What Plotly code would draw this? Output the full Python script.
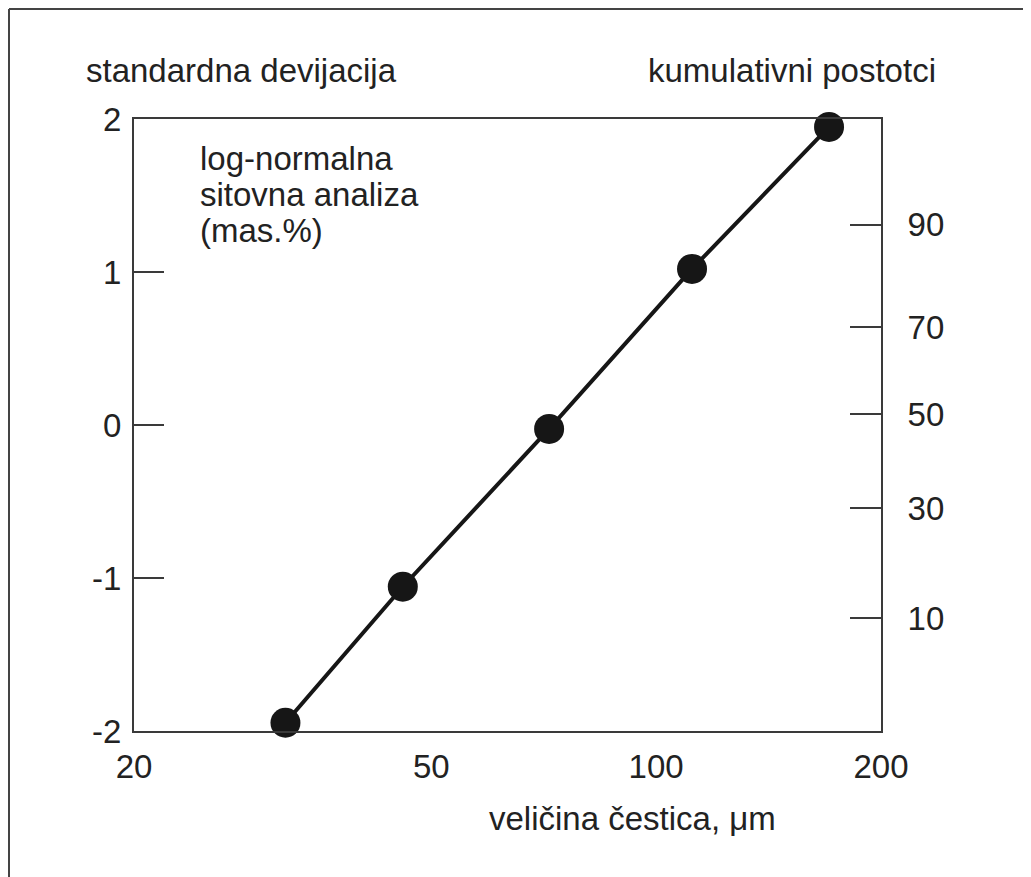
import plotly.graph_objects as go

# Data
particle_size_um = [31.9, 45.8, 71.9, 111.7, 170.4]
std_deviation = [-1.946, -1.057, -0.026, 1.02, 1.948]

x_tick_vals = [20, 50, 100, 200]
x_tick_text = ["20", "50", "100", "200"]

left_tick_vals = [-2, -1, 0, 1, 2]
left_tick_text = ["-2", "-1", "0", "1", "2"]

# cumulative percentages and where they sit on the standard-deviation scale
cum_percent_text = ["10", "30", "50", "70", "90"]
cum_percent_sd = [-1.262, -0.545, 0.070, 0.639, 1.308]

OFF = 8  # page body margin of the browser
W, H = 1031 - OFF, 877 - OFF
# plot area in screen pixels
SL, SR, ST, SB = 134, 881, 119, 731
L, R, T, B = SL - OFF, SR - OFF, ST - OFF, SB - OFF
pw, ph = R - L, B - T


def px(sx):
    return (sx - OFF - L) / pw


def py(sy):
    return (B - (sy - OFF)) / ph


FONT = "Arial, Liberation Sans, Helvetica, sans-serif"
TXT = "#222222"
AX = "#3a3a3a"
FS = 33

fig = go.Figure()
fig.add_trace(go.Scatter(
    x=particle_size_um, y=std_deviation,
    mode="lines+markers",
    line=dict(color="#161616", width=4),
    marker=dict(color="#161616", size=30),
    cliponaxis=False,
    showlegend=False,
    hoverinfo="skip",
))
# invisible trace to activate the right axis
fig.add_trace(go.Scatter(
    x=[particle_size_um[0]], y=[std_deviation[0]], yaxis="y2",
    mode="markers", marker=dict(opacity=0), showlegend=False, hoverinfo="skip",
))

fig.update_layout(
    width=W, height=H,
    margin=dict(l=L, r=W - R, t=T, b=H - B, pad=0),
    paper_bgcolor="white", plot_bgcolor="white",
    font=dict(family=FONT, size=FS, color=TXT),
    xaxis=dict(
        type="log", range=[1.30103, 2.30103],
        tickvals=x_tick_vals, ticktext=x_tick_text,
        ticks="", showgrid=False, zeroline=False,
        showline=True, linecolor=AX, linewidth=2, mirror=True,
        ticklabelstandoff=5,
        tickfont=dict(size=FS, color=TXT, family=FONT),
    ),
    yaxis=dict(
        range=[-2, 2],
        tickvals=left_tick_vals, ticktext=left_tick_text,
        ticks="inside", ticklen=30, tickwidth=2, tickcolor=AX,
        showgrid=False, zeroline=False,
        showline=True, linecolor=AX, linewidth=2,
        ticklabelstandoff=4,
        tickfont=dict(size=FS, color=TXT, family=FONT),
    ),
    yaxis2=dict(
        range=[-2, 2], overlaying="y", side="right",
        tickvals=cum_percent_sd, ticktext=cum_percent_text,
        ticks="inside", ticklen=31, tickwidth=2, tickcolor=AX,
        showgrid=False, zeroline=False,
        showline=True, linecolor=AX, linewidth=2,
        ticklabelstandoff=18,
        tickfont=dict(size=FS, color=TXT, family=FONT),
    ),
)

# outer frame (top and left edges visible)
frame = dict(type="line", xref="paper", yref="paper",
             line=dict(color="#444444", width=2), layer="below")
fig.add_shape(x0=px(OFF + 1), x1=px(1100), y0=py(OFF + 1), y1=py(OFF + 1), **frame)
fig.add_shape(x0=px(OFF + 1), x1=px(OFF + 1), y0=py(OFF + 1), y1=py(950), **frame)

ann = dict(xref="paper", yref="paper", showarrow=False,
           font=dict(family=FONT, size=FS, color=TXT), yanchor="middle")
fig.add_annotation(text="standardna devijacija", x=px(84), y=py(70), xanchor="left", **ann)
fig.add_annotation(text="kumulativni postotci", x=px(938), y=py(70), xanchor="right", **ann)
fig.add_annotation(text="log-normalna", x=px(198), y=py(158), xanchor="left", **ann)
fig.add_annotation(text="sitovna analiza", x=px(198), y=py(194), xanchor="left", **ann)
fig.add_annotation(text="(mas.%)", x=px(198), y=py(230), xanchor="left", **ann)
fig.add_annotation(text="veličina čestica, μm", x=px(632), y=py(818), xanchor="center", **ann)

fig.write_html("out.html")
